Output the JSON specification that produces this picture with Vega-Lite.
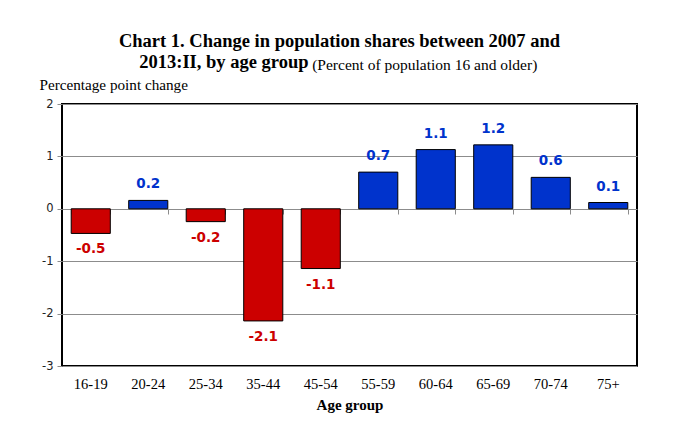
{
  "$schema": "https://vega.github.io/schema/vega-lite/v6.json",
  "width": 575,
  "height": 262,
  "autosize": {"type": "none"},
  "padding": {"left": 62, "top": 104, "right": 43, "bottom": 64},
  "background": "white",
  "config": {
    "locale": {"number": {"decimal": ".", "thousands": ",", "grouping": [3], "currency": ["$", ""], "minus": "-"}},
    "view": {"stroke": "#000000", "strokeWidth": 2},
    "axis": {"gridColor": "#8c8c8c", "gridWidth": 1}
  },
  "title": {
    "text": ["Chart 1. Change in population shares between 2007 and", "2013:II, by age group\u00a0\u00a0\u00a0\u00a0\u00a0\u00a0\u00a0\u00a0\u00a0\u00a0\u00a0\u00a0\u00a0\u00a0\u00a0\u00a0\u00a0\u00a0\u00a0\u00a0\u00a0\u00a0\u00a0\u00a0\u00a0\u00a0\u00a0\u00a0\u00a0\u00a0\u00a0\u00a0\u00a0\u00a0\u00a0\u00a0\u00a0\u00a0\u00a0\u00a0\u00a0\u00a0\u00a0\u00a0\u00a0\u00a0\u00a0\u00a0\u00a0\u00a0\u200b"],
    "subtitle": "\u200b\u00a0\u00a0\u00a0\u00a0\u00a0\u00a0\u00a0\u00a0\u00a0\u00a0\u00a0\u00a0\u00a0\u00a0\u00a0\u00a0\u00a0\u00a0\u00a0\u00a0\u00a0\u00a0\u00a0\u00a0\u00a0\u00a0\u00a0\u00a0\u00a0\u00a0\u00a0\u00a0\u00a0\u00a0\u00a0\u00a0\u00a0\u00a0\u00a0\u00a0\u00a0\u00a0\u00a0\u00a0(Percent of population 16 and older)",
    "anchor": "middle",
    "frame": "group",
    "dx": -10,
    "font": "Liberation Serif",
    "fontSize": 18.5,
    "fontWeight": "bold",
    "color": "#000000",
    "lineHeight": 21,
    "subtitleFont": "Liberation Serif",
    "subtitleFontSize": 15.5,
    "subtitleColor": "#000000",
    "subtitlePadding": -14,
    "offset": 4
  },
  "data": {
    "values": [
      {"age": "16-19", "v": -0.47},
      {"age": "20-24", "v": 0.16},
      {"age": "25-34", "v": -0.245},
      {"age": "35-44", "v": -2.14},
      {"age": "45-54", "v": -1.14},
      {"age": "55-59", "v": 0.70},
      {"age": "60-64", "v": 1.13},
      {"age": "65-69", "v": 1.22},
      {"age": "70-74", "v": 0.60},
      {"age": "75+", "v": 0.12}
    ]
  },
  "encoding": {
    "y": {
      "field": "v",
      "type": "quantitative",
      "scale": {"domain": [-3, 2], "nice": false, "zero": false},
      "axis": {
        "values": [-3, -2, -1, 0, 1, 2],
        "format": "d",
        "title": "Percentage point change",
        "titleAngle": 0,
        "titleAlign": "left",
        "titleBaseline": "alphabetic",
        "titleX": -23,
        "titleY": -15,
        "titleFont": "Liberation Serif",
        "titleFontSize": 15.2,
        "titleFontWeight": "normal",
        "titleColor": "#000000",
        "labelFont": "DejaVu Sans",
        "labelFontSize": 11.5,
        "labelColor": "#222222",
        "labelPadding": 4,
        "tickSize": 5,
        "tickColor": "#8c8c8c",
        "domain": false,
        "grid": true
      }
    }
  },
  "layer": [
    {
      "mark": {"type": "bar", "stroke": "#000000", "strokeWidth": 1},
      "encoding": {
        "x": {
          "field": "age",
          "type": "nominal",
          "sort": null,
          "scale": {"paddingInner": 0.32, "paddingOuter": 0.16},
          "axis": {
            "orient": "bottom",
            "title": "Age group",
            "titleFont": "Liberation Serif",
            "titleFontSize": 15,
            "titleFontWeight": "bold",
            "titleColor": "#000000",
            "titleBaseline": "alphabetic",
            "titleY": 43,
            "labelAngle": 0,
            "labelFont": "Liberation Serif",
            "labelFontSize": 14.5,
            "labelColor": "#000000",
            "labelBaseline": "alphabetic",
            "labelPadding": 22,
            "ticks": false,
            "tickSize": 0,
            "domain": false,
            "grid": false
          }
        },
        "y2": {"datum": 0},
        "color": {
          "condition": {"test": "datum.v < 0", "value": "#cc0000"},
          "value": "#0033cc"
        }
      }
    },
    {
      "transform": [{"filter": "datum.v >= 0"}],
      "mark": {"type": "text", "font": "DejaVu Sans", "fontSize": 13.5, "fontWeight": "bold", "baseline": "alphabetic", "dy": -12, "color": "#0033cc"},
      "encoding": {
        "x": {
          "field": "age",
          "type": "nominal",
          "sort": null,
          "axis": {
            "orient": "bottom",
            "offset": -157,
            "labels": false,
            "title": null,
            "domain": false,
            "ticks": true,
            "tickBand": "extent",
            "tickSize": 5,
            "tickColor": "#8c8c8c",
            "grid": false
          }
        },
        "text": {"field": "v", "type": "quantitative", "format": ".1f"}
      }
    },
    {
      "transform": [{"filter": "datum.v < 0"}],
      "mark": {"type": "text", "font": "DejaVu Sans", "fontSize": 13.5, "fontWeight": "bold", "baseline": "top", "dy": 9, "color": "#cc0000"},
      "encoding": {
        "x": {"field": "age", "type": "nominal", "sort": null, "axis": null},
        "text": {"field": "v", "type": "quantitative", "format": ".1f"}
      }
    }
  ],
  "resolve": {"axis": {"x": "independent"}}
}
